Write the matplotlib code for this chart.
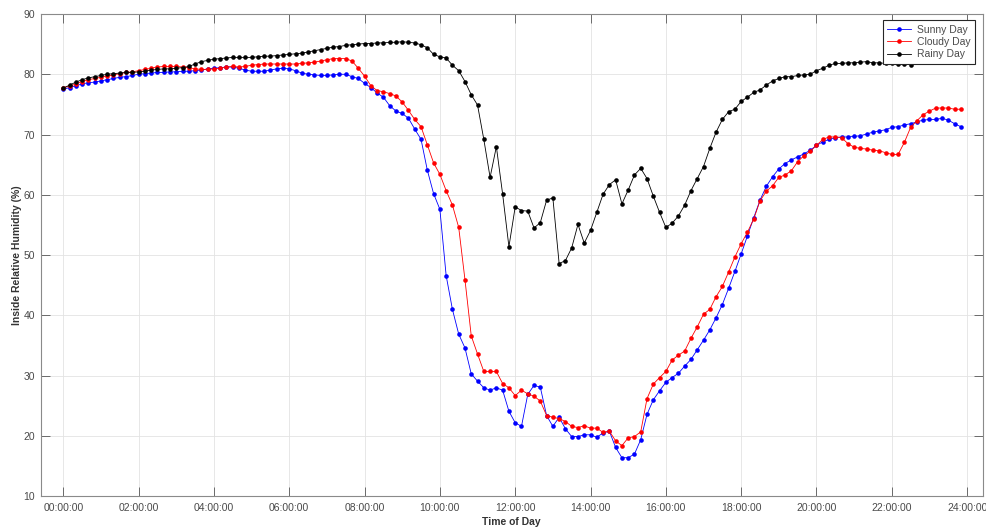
import numpy as np
import matplotlib
matplotlib.use('Agg')
import matplotlib.pyplot as plt

## inside relative humidity (%), one reading every 10 minutes from 00:00 to 23:50
sunny = [77.5, 77.8, 78.1, 78.4, 78.6, 78.7, 78.9, 79.1, 79.3, 79.5, 79.6, 79.8, 80.0, 80.1, 80.2, 80.3, 80.3, 80.4, 80.4, 80.5, 80.5, 80.6, 80.7, 80.9, 81.0,
         81.1, 81.2, 81.2, 81.0, 80.7, 80.5, 80.5, 80.5, 80.7, 80.9, 81.0, 80.9, 80.6, 80.2, 80.0, 79.9, 79.8, 79.8, 79.9, 80.0, 80.0, 79.6, 79.3, 78.5, 77.8, 76.9,
         76.2, 74.8, 73.9, 73.5, 72.7, 70.9, 69.2, 64.1, 60.2, 57.6, 46.6, 41.0, 36.9, 34.6, 30.3, 29.1, 28.0, 27.6, 28.0, 27.6, 24.1, 22.2, 21.6, 26.9, 28.4, 28.1,
         23.4, 21.6, 23.1, 21.2, 19.9, 19.9,
         20.2, 20.2, 19.8, 20.5, 20.8, 18.1, 16.4, 16.4, 17.0, 19.4, 23.6, 26.0, 27.5, 28.9, 29.7, 30.4, 31.6, 32.7, 34.3, 35.9, 37.6, 39.6, 41.8, 44.5, 47.3, 50.2,
         53.2, 56.2, 59.1, 61.4, 63.0, 64.3, 65.2, 65.8, 66.3, 66.8, 67.4, 68.2, 68.8, 69.2, 69.5, 69.6, 69.6, 69.7, 69.8, 70.1, 70.4, 70.6, 70.8, 71.2, 71.3,
         71.6, 71.8, 72.1, 72.4, 72.5, 72.5, 72.7, 72.4, 71.8, 71.3]

cloudy = [77.8, 78.0, 78.4, 78.8, 79.1, 79.3, 79.5, 79.7, 79.9, 80.1, 80.3, 80.4, 80.6, 80.8, 81.0, 81.2, 81.3, 81.3, 81.3, 81.2, 81.1, 80.9, 80.8, 80.8, 80.9,
          81.0, 81.2, 81.3, 81.2, 81.3, 81.5, 81.6, 81.7, 81.7, 81.7, 81.7, 81.7, 81.7, 81.8, 81.9, 82.0, 82.2, 82.4, 82.6, 82.6, 82.6, 82.2, 81.0, 79.7, 78.1, 77.3,
          77.1, 76.8, 76.4, 75.4, 74.0, 72.5, 71.3, 68.3, 65.3, 63.4, 60.7, 58.3, 54.6, 45.9, 36.6, 33.6, 30.7, 30.7, 30.7, 28.7, 28.0, 26.7, 27.6, 27.0, 26.6, 25.8,
          23.4, 23.1, 22.9, 22.4, 21.6, 21.4,
          21.7, 21.3, 21.3, 20.6, 20.8, 19.2, 18.4, 19.7, 19.9, 20.7, 26.2, 28.6, 29.7, 30.7, 32.6, 33.4, 34.1, 36.2, 38.1, 40.2, 41.0, 43.1, 44.8, 47.2, 49.7,
          51.9, 53.8, 56.0, 59.0, 60.6, 61.5, 62.9, 63.3, 64.0, 65.5, 66.5, 67.2, 68.2, 69.2, 69.6, 69.6, 69.5, 68.5, 67.9, 67.7, 67.6, 67.4, 67.3, 67.0, 66.7,
          66.7, 68.7, 71.2, 72.3, 73.3, 73.9, 74.4, 74.4, 74.4, 74.2, 74.2]

rainy = [77.7, 78.2, 78.7, 79.1, 79.4, 79.6, 79.8, 80.0, 80.1, 80.2, 80.3, 80.3, 80.4, 80.5, 80.7, 80.8, 80.9, 80.9, 81.0, 81.1, 81.3, 81.7, 82.1, 82.3, 82.5,
         82.6, 82.7, 82.8, 82.8, 82.8, 82.8, 82.9, 83.0, 83.0, 83.1, 83.2, 83.3, 83.4, 83.5, 83.7, 83.9, 84.1, 84.3, 84.5, 84.6, 84.8, 84.9, 85.0, 85.1, 85.1,
         85.2, 85.2, 85.3, 85.3,
         85.4, 85.3, 85.2, 84.9, 84.4, 83.3, 82.9, 82.7, 81.5, 80.6, 78.8, 76.6, 74.9, 69.2, 62.9, 68.0, 60.1, 51.4, 58.0, 57.4, 57.3, 54.5, 55.4, 59.1, 59.5,
         48.6, 49.1, 51.2, 55.1, 52.0, 54.1, 57.1, 60.1, 61.7, 62.5,
         58.5, 60.8, 63.3, 64.4, 62.7, 59.8, 57.1, 54.6, 55.3, 56.5, 58.3, 60.7, 62.7, 64.7, 67.7, 70.4, 72.5, 73.8, 74.2, 75.5, 76.2, 77.0, 77.4, 78.2, 78.9,
         79.3, 79.6, 79.6, 79.8, 79.9, 80.0, 80.6,
         81.0, 81.5, 81.8, 81.8, 81.9, 81.9, 82.0, 82.1, 81.9, 81.9, 81.8, 81.8, 81.7, 81.7, 81.6, 82.4, 82.4, 82.4, 82.4, 82.4, 82.4, 82.4, 82.4]

hours = np.arange(len(sunny)) / 6.0
tick_hours = list(range(0, 25, 2))
tick_labels = ['%02d:00:00' % h for h in tick_hours]

plt.rcParams['font.family'] = ['Liberation Sans', 'DejaVu Sans']

fig = plt.figure(figsize=(9.87, 5.30), dpi=100)
ax = fig.add_axes([0.0412, 0.0636, 0.9547, 0.9100])

ax.plot(hours, sunny, '-o', color='#0000ff', lw=0.6, ms=3.3, mew=0, label='Sunny Day')
ax.plot(hours, cloudy, '-o', color='#ff0000', lw=0.6, ms=3.3, mew=0, label='Cloudy Day')
ax.plot(hours, rainy, '-o', color='#000000', lw=0.6, ms=3.3, mew=0, label='Rainy Day')

ax.set_xlim(-0.6, 24.42)
ax.set_ylim(10, 90)
ax.set_xticks(tick_hours)
ax.set_xticklabels(tick_labels)
ax.set_yticks(range(10, 91, 10))

## matlab style box and grid
ax.grid(True, color='#e3e3e3', lw=0.6)
ax.set_axisbelow(True)
for s in ax.spines.values():
    s.set_color('#8a8a8a')
    s.set_linewidth(0.8)
ax.tick_params(direction='in', length=6.5, width=0.7, color='#6a6a6a',
               top=True, right=True, labelsize=7.5, labelcolor='#4a4a4a')
ax.tick_params(axis='x', pad=5)
ax.tick_params(axis='y', pad=4)

ax.set_xlabel('Time of Day', fontsize=7.5, fontweight='bold', color='#333333', labelpad=3)
ax.set_ylabel('Inside Relative Humidity (%)', fontsize=7.5, fontweight='bold', color='#333333', labelpad=1)

leg = ax.legend(loc='upper right', bbox_to_anchor=(0.9915, 0.9876), borderaxespad=0,
                fontsize=7.5, fancybox=False, framealpha=1, edgecolor='#262626',
                handlelength=2.3, labelspacing=0.22, borderpad=0.45, handletextpad=0.5)
leg.get_frame().set_linewidth(0.8)
for t in leg.get_texts():
    t.set_color('#4a4a4a')

fig.savefig('out.png', dpi=100)
